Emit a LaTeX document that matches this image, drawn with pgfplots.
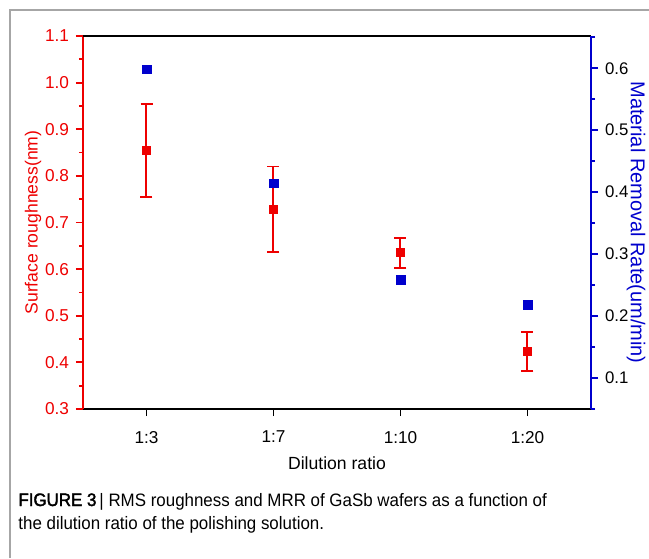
\documentclass[border=0pt]{standalone}
\usepackage{fontspec}
\setmainfont{Liberation Sans}
\newfontfamily\capfont[FakeStretch=0.94]{Liberation Sans}
\newfontfamily\capfontb[FakeStretch=0.94,FakeBold=2]{Liberation Sans}
\usepackage{pgfplots}
\pgfplotsset{compat=1.18}
\definecolor{myred}{RGB}{238,0,0}
\definecolor{myblue}{RGB}{0,0,205}
\begin{document}
\begin{tikzpicture}
\path[use as bounding box] (0,0) rectangle (324.5pt,279pt);
\draw[gray!70, line width=0.6pt] (5pt,0) -- (5pt,274pt) -- (324.5pt,274pt);
\begin{axis}[
  at={(41.5pt,74.5pt)}, anchor=south west, scale only axis,
  width=254pt, height=186.5pt,
  xmin=-0.5, xmax=3.5, ymin=0.3, ymax=1.1,
  axis y line*=left, axis x line*=bottom,
  x axis line style={black, line width=1.1pt, -},
  y axis line style={myred, line width=1.1pt, -},
  xtick={0,1,2,3}, xticklabels={1:3,1:7,1:10,1:20},
  ytick={0.3,0.4,...,1.1},
  minor ytick={0.35,0.45,...,1.05},
  yticklabel style={myred, /pgf/number format/.cd, fixed, fixed zerofill, precision=1},
  xticklabel style={yshift=-4pt},
  /pgf/number format/assume math mode=true,
  tick align=outside,
  major tick length=3.5pt, minor tick length=2pt,
  x tick style={black, line width=0.9pt},
  y tick style={myred, line width=0.9pt},
  tick label style={font=\fontsize{8.6}{10}\selectfont},
  xlabel={Dilution ratio}, ylabel={Surface roughness(nm)},
  label style={font=\fontsize{8.8}{10}\selectfont},
  ylabel style={myred, yshift=-5pt},
  xlabel style={yshift=0pt},
  clip=false,
]
\addplot[only marks, mark=square*, mark size=2pt, color=myred,
  error bars/.cd, y dir=both, y explicit,
  error bar style={draw=myred, line width=1pt},
  error mark options={rotate=90, mark size=3pt, line width=0.9pt, draw=myred}]
coordinates {
  (0,0.855) +- (0,0.100)
  (1,0.728) +- (0,0.092)
  (2,0.635) +- (0,0.032)
  (3,0.424) +- (0,0.042)
};
\end{axis}
\begin{axis}[
  at={(41.5pt,74.5pt)}, anchor=south west, scale only axis,
  width=254pt, height=186.5pt,
  xmin=-0.5, xmax=3.5, ymin=0.05, ymax=0.652,
  axis y line*=right, axis x line*=top,
  x axis line style={black, line width=1.1pt, -},
  y axis line style={myblue, line width=1.1pt, -},
  xtick=\empty,
  ytick={0.1,0.2,...,0.6},
  minor ytick={0.05,0.15,...,0.65},
  yticklabel style={black, /pgf/number format/.cd, fixed, fixed zerofill, precision=1},
  /pgf/number format/assume math mode=true,
  tick align=outside,
  major tick length=3.5pt, minor tick length=2pt,
  y tick style={myblue, line width=0.9pt},
  tick label style={font=\fontsize{8.4}{10}\selectfont},
  ylabel={Material Removal Rate(um/min)},
  label style={font=\fontsize{8.3}{10}\selectfont},
  every axis y label/.style={at={([xshift=22.5pt]axis description cs:1,0.5)}, anchor=center, rotate=-90, inner sep=0pt, myblue},
  clip=false,
]
\addplot[only marks, mark=square*, mark size=2.2pt, color=myblue]
coordinates {
  (0,0.598)
  (1,0.414)
  (2,0.258)
  (3,0.218)
};
\end{axis}
\node[anchor=base west, inner sep=0pt] at (9pt,26pt) {\fontsize{9}{10}\selectfont{\capfontb FIGURE 3}\,{\capfont | RMS roughness and MRR of GaSb wafers as a function of}};
\node[anchor=base west, inner sep=0pt] at (9pt,14.5pt) {\fontsize{9}{10}\selectfont\capfont the dilution ratio of the polishing solution.};
\end{tikzpicture}
\end{document}
